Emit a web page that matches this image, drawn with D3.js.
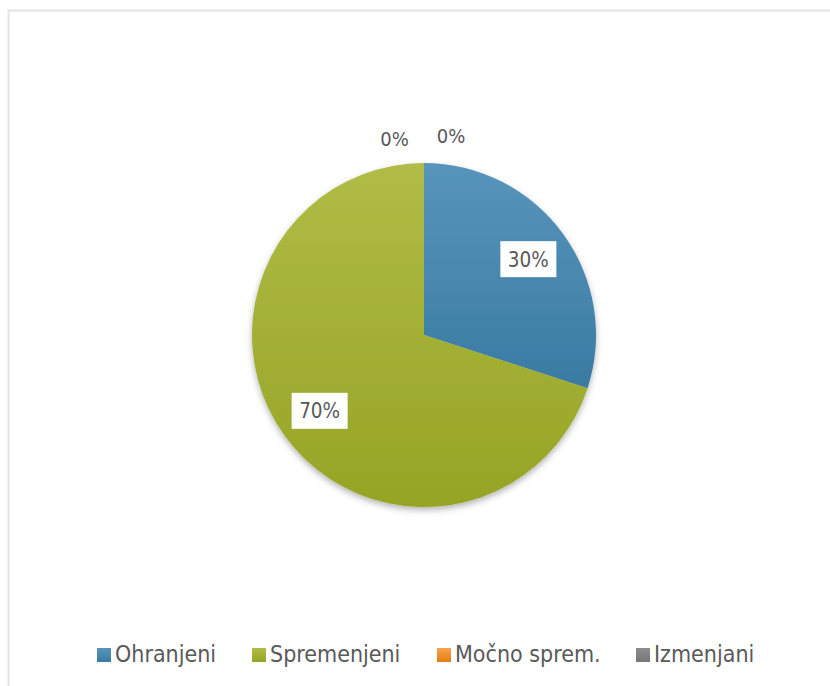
<!DOCTYPE html>
<html>
<head>
<meta charset="utf-8">
<script src="https://cdn.jsdelivr.net/npm/d3@7"></script>
<style>
  html, body { margin: 0; padding: 0; background: #fff; }
  svg { display: block; }
  .lbl { font-family: "DejaVu Sans Condensed", "DejaVu Sans", sans-serif; fill: #595959; }
</style>
</head>
<body>
<div id="chart"></div>
<script>
// chart data
const categories = ['Ohranjeni', 'Spremenjeni', 'Močno sprem.', 'Izmenjani'];
const values = [30, 70, 0, 0];
const labels = ['30%', '70%', '0%', '0%'];
const colorsTop = ['#5894bb', '#b0bc46', '#f9a04e', '#8c8c8c'];
const colorsBottom = ['#397ba2', '#96a425', '#e27f10', '#777777'];

const width = 830, height = 686;
const cx = 424, cy = 335, radius = 172;

const svg = d3.select('#chart').append('svg')
    .attr('width', width)
    .attr('height', height);

// chart area border (continues past the right / bottom edge)
svg.append('rect')
    .attr('x', 8.5).attr('y', 10.5)
    .attr('width', width).attr('height', height)
    .attr('fill', '#fff')
    .attr('stroke', '#e3e3e3')
    .attr('stroke-width', 2);

const defs = svg.append('defs');

categories.forEach((c, i) => {
  const g = defs.append('linearGradient')
      .attr('id', 'grad' + i)
      .attr('x1', 0).attr('y1', 0).attr('x2', 0).attr('y2', 1);
  g.append('stop').attr('offset', '0%').attr('stop-color', colorsTop[i]);
  g.append('stop').attr('offset', '100%').attr('stop-color', colorsBottom[i]);
});

const shadow = defs.append('filter')
    .attr('id', 'shadow')
    .attr('x', '-20%').attr('y', '-20%').attr('width', '140%').attr('height', '140%');
shadow.append('feDropShadow')
    .attr('dx', 0).attr('dy', 3)
    .attr('stdDeviation', 3)
    .attr('flood-color', '#000')
    .attr('flood-opacity', 0.3);

const data = categories.map((c, i) => ({category: c, value: values[i], label: labels[i], idx: i}));

const pie = d3.pie().sort(null).value(d => d.value);
const arcs = pie(data);

const arc = d3.arc().innerRadius(0).outerRadius(radius);
const labelArc = d3.arc().innerRadius(129).outerRadius(129);
const outerArc = d3.arc().innerRadius(radius + 25).outerRadius(radius + 25);

const chart = svg.append('g')
    .attr('transform', `translate(${cx},${cy})`);

chart.append('g')
    .attr('filter', 'url(#shadow)')
  .selectAll('path')
    .data(arcs.filter(d => d.value > 0))
  .join('path')
    .attr('d', arc)
    .attr('fill', d => `url(#grad${d.data.idx})`);

// labels for non-zero slices sit inside, in white boxes
const inner = chart.selectAll('g.inlbl')
    .data(arcs.filter(d => d.value > 0))
  .join('g')
    .attr('class', 'inlbl')
    .attr('transform', d => `translate(${labelArc.centroid(d)})`);

inner.append('rect')
    .attr('x', -28).attr('y', -18)
    .attr('width', 56).attr('height', 36)
    .attr('fill', '#fff');

inner.append('text')
    .attr('class', 'lbl')
    .attr('text-anchor', 'middle')
    .attr('dy', '0.36em')
    .attr('font-size', 20.5)
    .text(d => d.data.label);

// zero slices: labels pushed outside, spread either side of the top
const zeroOffsets = [27, -29.5];
const zeroLift = [2, -0.5];
chart.selectAll('text.zero')
    .data(arcs.filter(d => d.value === 0))
  .join('text')
    .attr('class', 'lbl zero')
    .attr('text-anchor', 'middle')
    .attr('font-size', 20)
    .attr('dy', '0.36em')
    .attr('x', (d, i) => outerArc.centroid(d)[0] + zeroOffsets[i])
    .attr('y', (d, i) => outerArc.centroid(d)[1] - zeroLift[i])
    .text(d => d.data.label);

// legend
const legendX = [97, 252, 437, 636];
const legend = svg.append('g')
    .selectAll('g')
    .data(data)
  .join('g')
    .attr('transform', (d, i) => `translate(${legendX[i]},648)`);

legend.append('rect')
    .attr('width', 14).attr('height', 14)
    .attr('fill', d => `url(#grad${d.idx})`);

legend.append('text')
    .attr('class', 'lbl')
    .attr('x', 18)
    .attr('y', 6)
    .attr('dy', '0.36em')
    .attr('font-size', 23)
    .text(d => d.category);
</script>
</body>
</html>
